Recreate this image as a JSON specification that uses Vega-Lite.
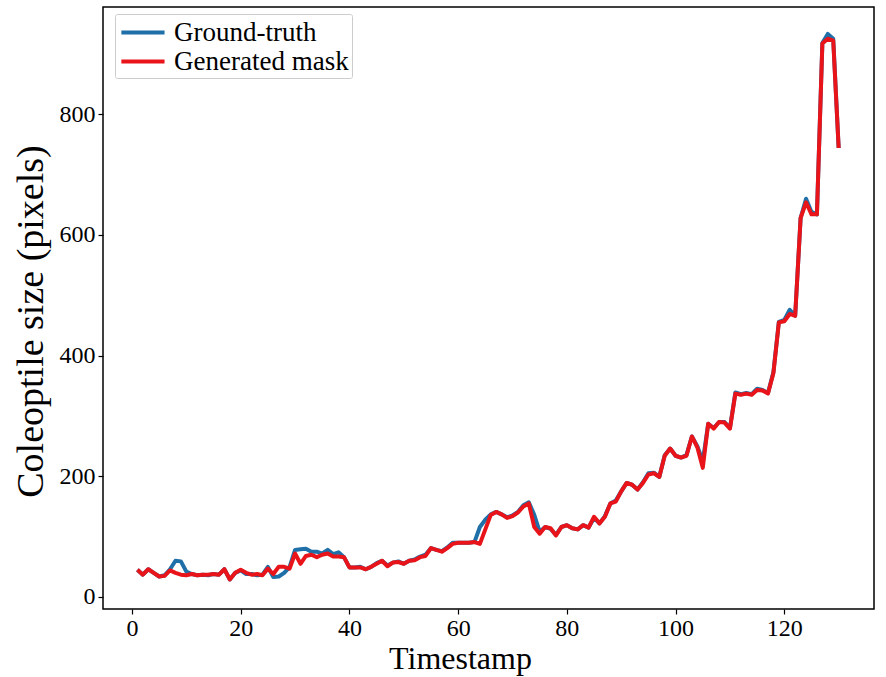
{
  "$schema": "https://vega.github.io/schema/vega-lite/v6.json",
  "width": 771,
  "height": 602,
  "autosize": {"type": "none"},
  "padding": {"left": 103, "top": 7, "right": 12, "bottom": 68},
  "background": "white",
  "config": {
    "font": "Liberation Serif",
    "view": {"stroke": "black", "strokeWidth": 1.5},
    "axis": {"grid": false, "domain": false, "tickColor": "black", "tickSize": 5, "tickWidth": 1.2, "labelColor": "black", "titleColor": "black", "labelFont": "Liberation Serif", "titleFont": "Liberation Serif", "titleFontWeight": "normal"},
    "legend": {"labelFont": "Liberation Serif"}
  },
  "data": {
    "values": [
      {"t": 1, "Ground-truth": 45, "Generated mask": 45},
      {"t": 2, "Ground-truth": 37, "Generated mask": 37},
      {"t": 3, "Ground-truth": 46, "Generated mask": 46},
      {"t": 4, "Ground-truth": 40, "Generated mask": 40},
      {"t": 5, "Ground-truth": 34, "Generated mask": 34},
      {"t": 6, "Ground-truth": 36, "Generated mask": 35},
      {"t": 7, "Ground-truth": 46, "Generated mask": 44},
      {"t": 8, "Ground-truth": 60, "Generated mask": 40},
      {"t": 9, "Ground-truth": 59, "Generated mask": 37},
      {"t": 10, "Ground-truth": 42, "Generated mask": 36},
      {"t": 11, "Ground-truth": 38, "Generated mask": 38},
      {"t": 12, "Ground-truth": 36, "Generated mask": 36},
      {"t": 13, "Ground-truth": 37, "Generated mask": 37},
      {"t": 14, "Ground-truth": 36, "Generated mask": 37},
      {"t": 15, "Ground-truth": 38, "Generated mask": 38},
      {"t": 16, "Ground-truth": 37, "Generated mask": 37},
      {"t": 17, "Ground-truth": 46, "Generated mask": 46},
      {"t": 18, "Ground-truth": 29, "Generated mask": 29},
      {"t": 19, "Ground-truth": 40, "Generated mask": 40},
      {"t": 20, "Ground-truth": 44, "Generated mask": 45},
      {"t": 21, "Ground-truth": 38, "Generated mask": 40},
      {"t": 22, "Ground-truth": 38, "Generated mask": 37},
      {"t": 23, "Ground-truth": 36, "Generated mask": 38},
      {"t": 24, "Ground-truth": 37, "Generated mask": 36},
      {"t": 25, "Ground-truth": 50, "Generated mask": 47},
      {"t": 26, "Ground-truth": 33, "Generated mask": 38},
      {"t": 27, "Ground-truth": 34, "Generated mask": 50},
      {"t": 28, "Ground-truth": 40, "Generated mask": 50},
      {"t": 29, "Ground-truth": 50, "Generated mask": 47},
      {"t": 30, "Ground-truth": 78, "Generated mask": 72},
      {"t": 31, "Ground-truth": 79, "Generated mask": 55},
      {"t": 32, "Ground-truth": 80, "Generated mask": 68},
      {"t": 33, "Ground-truth": 75, "Generated mask": 70},
      {"t": 34, "Ground-truth": 75, "Generated mask": 66},
      {"t": 35, "Ground-truth": 72, "Generated mask": 70},
      {"t": 36, "Ground-truth": 78, "Generated mask": 72},
      {"t": 37, "Ground-truth": 71, "Generated mask": 67},
      {"t": 38, "Ground-truth": 74, "Generated mask": 67},
      {"t": 39, "Ground-truth": 66, "Generated mask": 66},
      {"t": 40, "Ground-truth": 49, "Generated mask": 49},
      {"t": 41, "Ground-truth": 49, "Generated mask": 49},
      {"t": 42, "Ground-truth": 50, "Generated mask": 49},
      {"t": 43, "Ground-truth": 46, "Generated mask": 46},
      {"t": 44, "Ground-truth": 50, "Generated mask": 50},
      {"t": 45, "Ground-truth": 56, "Generated mask": 55},
      {"t": 46, "Ground-truth": 60, "Generated mask": 60},
      {"t": 47, "Ground-truth": 52, "Generated mask": 51},
      {"t": 48, "Ground-truth": 57, "Generated mask": 57},
      {"t": 49, "Ground-truth": 59, "Generated mask": 58},
      {"t": 50, "Ground-truth": 55, "Generated mask": 55},
      {"t": 51, "Ground-truth": 60, "Generated mask": 60},
      {"t": 52, "Ground-truth": 62, "Generated mask": 61},
      {"t": 53, "Ground-truth": 67, "Generated mask": 66},
      {"t": 54, "Ground-truth": 70, "Generated mask": 68},
      {"t": 55, "Ground-truth": 81, "Generated mask": 81},
      {"t": 56, "Ground-truth": 78, "Generated mask": 78},
      {"t": 57, "Ground-truth": 76, "Generated mask": 75},
      {"t": 58, "Ground-truth": 82, "Generated mask": 81},
      {"t": 59, "Ground-truth": 90, "Generated mask": 88},
      {"t": 60, "Ground-truth": 90, "Generated mask": 90},
      {"t": 61, "Ground-truth": 90, "Generated mask": 90},
      {"t": 62, "Ground-truth": 90, "Generated mask": 90},
      {"t": 63, "Ground-truth": 91, "Generated mask": 91},
      {"t": 64, "Ground-truth": 116, "Generated mask": 88},
      {"t": 65, "Ground-truth": 128, "Generated mask": 112},
      {"t": 66, "Ground-truth": 137, "Generated mask": 136},
      {"t": 67, "Ground-truth": 141, "Generated mask": 141},
      {"t": 68, "Ground-truth": 137, "Generated mask": 137},
      {"t": 69, "Ground-truth": 132, "Generated mask": 131},
      {"t": 70, "Ground-truth": 135, "Generated mask": 134},
      {"t": 71, "Ground-truth": 141, "Generated mask": 140},
      {"t": 72, "Ground-truth": 152, "Generated mask": 150},
      {"t": 73, "Ground-truth": 157, "Generated mask": 155},
      {"t": 74, "Ground-truth": 136, "Generated mask": 116},
      {"t": 75, "Ground-truth": 108, "Generated mask": 105},
      {"t": 76, "Ground-truth": 116, "Generated mask": 116},
      {"t": 77, "Ground-truth": 113, "Generated mask": 114},
      {"t": 78, "Ground-truth": 103, "Generated mask": 102},
      {"t": 79, "Ground-truth": 116, "Generated mask": 116},
      {"t": 80, "Ground-truth": 119, "Generated mask": 119},
      {"t": 81, "Ground-truth": 114, "Generated mask": 114},
      {"t": 82, "Ground-truth": 112, "Generated mask": 112},
      {"t": 83, "Ground-truth": 119, "Generated mask": 119},
      {"t": 84, "Ground-truth": 115, "Generated mask": 115},
      {"t": 85, "Ground-truth": 131, "Generated mask": 133},
      {"t": 86, "Ground-truth": 122, "Generated mask": 122},
      {"t": 87, "Ground-truth": 134, "Generated mask": 133},
      {"t": 88, "Ground-truth": 155, "Generated mask": 155},
      {"t": 89, "Ground-truth": 160, "Generated mask": 158},
      {"t": 90, "Ground-truth": 175, "Generated mask": 175},
      {"t": 91, "Ground-truth": 189, "Generated mask": 189},
      {"t": 92, "Ground-truth": 186, "Generated mask": 186},
      {"t": 93, "Ground-truth": 178, "Generated mask": 178},
      {"t": 94, "Ground-truth": 190, "Generated mask": 189},
      {"t": 95, "Ground-truth": 205, "Generated mask": 203},
      {"t": 96, "Ground-truth": 206, "Generated mask": 205},
      {"t": 97, "Ground-truth": 199, "Generated mask": 199},
      {"t": 98, "Ground-truth": 235, "Generated mask": 234},
      {"t": 99, "Ground-truth": 246, "Generated mask": 246},
      {"t": 100, "Ground-truth": 234, "Generated mask": 234},
      {"t": 101, "Ground-truth": 231, "Generated mask": 231},
      {"t": 102, "Ground-truth": 235, "Generated mask": 234},
      {"t": 103, "Ground-truth": 266, "Generated mask": 266},
      {"t": 104, "Ground-truth": 250, "Generated mask": 248},
      {"t": 105, "Ground-truth": 225, "Generated mask": 214},
      {"t": 106, "Ground-truth": 287, "Generated mask": 287},
      {"t": 107, "Ground-truth": 280, "Generated mask": 279},
      {"t": 108, "Ground-truth": 290, "Generated mask": 290},
      {"t": 109, "Ground-truth": 290, "Generated mask": 289},
      {"t": 110, "Ground-truth": 280, "Generated mask": 279},
      {"t": 111, "Ground-truth": 339, "Generated mask": 337},
      {"t": 112, "Ground-truth": 336, "Generated mask": 335},
      {"t": 113, "Ground-truth": 338, "Generated mask": 337},
      {"t": 114, "Ground-truth": 336, "Generated mask": 335},
      {"t": 115, "Ground-truth": 345, "Generated mask": 343},
      {"t": 116, "Ground-truth": 343, "Generated mask": 342},
      {"t": 117, "Ground-truth": 338, "Generated mask": 337},
      {"t": 118, "Ground-truth": 373, "Generated mask": 371},
      {"t": 119, "Ground-truth": 456, "Generated mask": 455},
      {"t": 120, "Ground-truth": 459, "Generated mask": 457},
      {"t": 121, "Ground-truth": 476, "Generated mask": 469},
      {"t": 122, "Ground-truth": 466, "Generated mask": 466},
      {"t": 123, "Ground-truth": 628, "Generated mask": 628},
      {"t": 124, "Ground-truth": 660, "Generated mask": 654},
      {"t": 125, "Ground-truth": 638, "Generated mask": 634},
      {"t": 126, "Ground-truth": 634, "Generated mask": 634},
      {"t": 127, "Ground-truth": 918, "Generated mask": 917},
      {"t": 128, "Ground-truth": 933, "Generated mask": 925},
      {"t": 129, "Ground-truth": 925, "Generated mask": 922},
      {"t": 130, "Ground-truth": 744, "Generated mask": 744}
    ]
  },
  "transform": [
    {"fold": ["Ground-truth", "Generated mask"], "as": ["series", "size"]}
  ],
  "encoding": {
    "x": {
      "field": "t", "type": "quantitative",
      "scale": {"domain": [-5.33, 136.5], "nice": false, "zero": false},
      "axis": {"values": [0, 20, 40, 60, 80, 100, 120], "title": "Timestamp", "titleFontSize": 32, "titleX": 357, "titleY": 59, "titleBaseline": "alphabetic", "labelFontSize": 24, "labelPadding": 2}
    },
    "y": {
      "field": "size", "type": "quantitative",
      "scale": {"domain": [-19.9, 977.6], "nice": false, "zero": false},
      "axis": {"values": [0, 200, 400, 600, 800], "title": "Coleoptile size (pixels)", "titleFontSize": 38, "titleAngle": -90, "titleX": -61, "titleY": 314, "titleAlign": "center", "titleBaseline": "alphabetic", "labelFontSize": 24, "labelPadding": 3}
    },
    "color": {
      "field": "series", "type": "nominal",
      "scale": {"domain": ["Ground-truth", "Generated mask"], "range": ["#1f6fa8", "#e8141a"]},
      "legend": {"orient": "none", "legendX": 12, "legendY": 7, "title": null, "padding": 3, "strokeColor": "#cccccc", "fillColor": "white", "cornerRadius": 2, "symbolType": "M-0.9,0H2.3", "symbolSize": 729, "symbolStrokeWidth": 4, "labelFontSize": 27, "labelOffset": 25, "labelLimit": 400, "rowPadding": 0, "labelColor": "black"}
    }
  },
  "layer": [
    {
      "transform": [{"filter": "datum.series === 'Ground-truth'"}],
      "mark": {"type": "line", "strokeWidth": 4, "strokeJoin": "round"}
    },
    {
      "transform": [{"filter": "datum.series === 'Generated mask'"}],
      "mark": {"type": "line", "strokeWidth": 4, "strokeJoin": "round"}
    }
  ]
}
